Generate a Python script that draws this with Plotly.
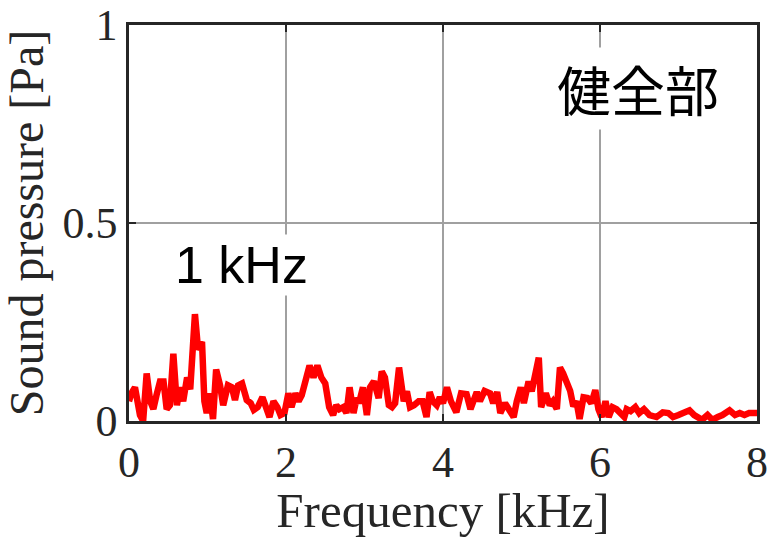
import plotly.graph_objects as go

# Spectrum of the sound pressure (frequency in kHz, amplitude in Pa)
freq_khz = [
    0.00, 0.03, 0.076, 0.11, 0.14, 0.18, 0.225, 0.27, 0.31, 0.35, 0.395, 0.44, 0.48, 0.52,
    0.565, 0.61, 0.65, 0.69, 0.74, 0.78, 0.84, 0.88, 0.93, 0.96, 0.99, 1.03, 1.07, 1.11,
    1.16, 1.20, 1.26, 1.31, 1.35, 1.39, 1.44, 1.50, 1.55, 1.59, 1.64, 1.70, 1.74, 1.79,
    1.84, 1.89, 1.93, 1.98, 2.03, 2.07, 2.12, 2.16, 2.20, 2.24, 2.30, 2.35, 2.40, 2.45,
    2.50, 2.55, 2.60, 2.64, 2.68, 2.73, 2.77, 2.81, 2.86, 2.90, 2.93, 2.98, 3.03, 3.07,
    3.12, 3.18, 3.22, 3.26, 3.31, 3.35, 3.39, 3.44, 3.50, 3.54, 3.58, 3.63, 3.69, 3.74,
    3.79, 3.83, 3.87, 3.92, 3.96, 4.00, 4.05, 4.10, 4.17, 4.23, 4.30, 4.35, 4.43, 4.47,
    4.53, 4.60, 4.64, 4.69, 4.73, 4.79, 4.84, 4.90, 4.94, 4.99, 5.03, 5.09, 5.13, 5.17,
    5.22, 5.25, 5.31, 5.36, 5.40, 5.45, 5.49, 5.53, 5.57, 5.62, 5.66, 5.70, 5.74, 5.79,
    5.84, 5.89, 5.94, 5.98, 6.02, 6.07, 6.11, 6.16, 6.21, 6.26, 6.31, 6.34, 6.39, 6.45,
    6.50, 6.56, 6.63, 6.72, 6.80, 6.87, 6.93, 7.00, 7.08, 7.14, 7.20, 7.30, 7.37, 7.43,
    7.50, 7.56, 7.65, 7.72, 7.78, 7.84, 7.90, 7.98, 8.00,
]
pressure_pa = [
    0.050, 0.070, 0.085, 0.040, 0.015, 0.000, 0.120, 0.050, 0.030, 0.065, 0.100, 0.100, 0.030, 0.040,
    0.170, 0.040, 0.085, 0.050, 0.110, 0.080, 0.270, 0.180, 0.200, 0.050, 0.020, 0.070, 0.005, 0.130,
    0.090, 0.040, 0.090, 0.085, 0.053, 0.090, 0.095, 0.053, 0.045, 0.028, 0.035, 0.060, 0.035, 0.010,
    0.050, 0.035, 0.015, 0.020, 0.070, 0.035, 0.070, 0.050, 0.065, 0.095, 0.140, 0.110, 0.140, 0.110,
    0.095, 0.035, 0.015, 0.040, 0.030, 0.035, 0.020, 0.085, 0.020, 0.058, 0.045, 0.085, 0.015, 0.085,
    0.100, 0.058, 0.125, 0.110, 0.040, 0.035, 0.045, 0.135, 0.050, 0.075, 0.035, 0.040, 0.050, 0.050,
    0.010, 0.073, 0.050, 0.040, 0.060, 0.045, 0.085, 0.050, 0.022, 0.070, 0.068, 0.030, 0.073, 0.050,
    0.076, 0.070, 0.045, 0.073, 0.020, 0.045, 0.025, 0.010, 0.050, 0.085, 0.045, 0.100, 0.075, 0.120,
    0.160, 0.035, 0.070, 0.040, 0.050, 0.030, 0.135, 0.120, 0.095, 0.076, 0.037, 0.050, 0.005, 0.060,
    0.058, 0.045, 0.078, 0.030, 0.010, 0.050, 0.010, 0.035, 0.030, 0.020, 0.010, 0.030, 0.025, 0.035,
    0.020, 0.030, 0.015, 0.010, 0.022, 0.020, 0.010, 0.015, 0.022, 0.027, 0.015, 0.003, 0.015, 0.003,
    0.010, 0.015, 0.027, 0.015, 0.020, 0.015, 0.020, 0.022, 0.020,
]

x_ticks = [0, 2, 4, 6, 8]
y_ticks = [0, 0.5, 1]
y_tick_labels = ["0", "0.5", "1"]

serif = "Liberation Serif, Times New Roman, serif"
axis_color = "#262626"
grid_color = "#a0a0a0"

fig = go.Figure()
fig.add_trace(go.Scatter(
    x=freq_khz, y=pressure_pa, mode="lines",
    line=dict(color="#ff0000", width=6.5),
    showlegend=False,
))

fig.add_annotation(
    x=1.43, y=0.395, xref="x", yref="y", text="1 kHz", showarrow=False,
    font=dict(family="Liberation Sans, Arial, sans-serif", size=52, color="black"),
    bgcolor="white",
)
fig.add_annotation(
    x=6.48, y=0.84, xref="x", yref="y", text="健全部", showarrow=False,
    font=dict(family="Noto Sans CJK JP, sans-serif", size=54, color="black"),
    bgcolor="white",
)

axis_common = dict(
    showline=True, linecolor=axis_color, linewidth=2.5, mirror="ticks",
    ticks="inside", ticklen=7, tickwidth=2, tickcolor=axis_color,
    showgrid=True, gridcolor=grid_color, gridwidth=1.5,
    zeroline=False, automargin=False, ticklabeloverflow="allow",
    tickfont=dict(family=serif, size=44, color=axis_color),
)

fig.update_xaxes(
    range=[0, 8], tickvals=x_ticks, ticktext=[str(t) for t in x_ticks],
    title=dict(text="Frequency [kHz]", font=dict(family=serif, size=49, color=axis_color), standoff=10),
    **axis_common,
)
fig.update_yaxes(
    range=[0, 1], tickvals=y_ticks, ticktext=y_tick_labels,
    title=dict(text="Sound pressure [Pa]", font=dict(family=serif, size=48, color=axis_color), standoff=8),
    **axis_common,
)

fig.update_layout(
    width=767, height=538,
    margin=dict(l=129, r=10, t=25, b=117),
    plot_bgcolor="white", paper_bgcolor="white",
)

fig.write_html("out.html")
